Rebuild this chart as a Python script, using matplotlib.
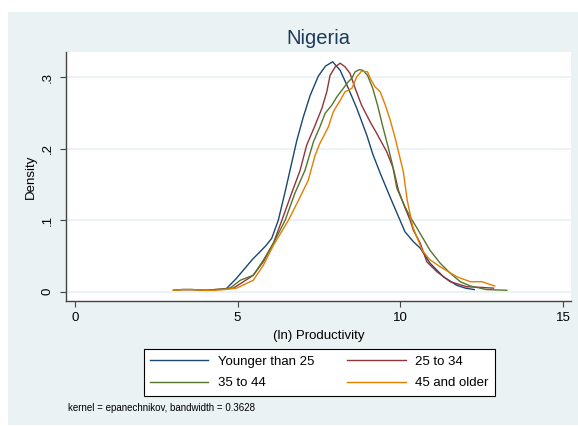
import matplotlib
matplotlib.use("Agg")
import matplotlib.pyplot as plt
from matplotlib.patches import Rectangle

plt.rcParams['font.family'] = ['Liberation Sans', 'DejaVu Sans']

# kernel density curves
young_x = [4.67, 4.95, 5.23, 5.45, 5.69, 5.88, 6.05, 6.25, 6.46, 6.66, 6.82, 7.02, 7.23, 7.48, 7.70,
           7.92, 8.15, 8.40, 8.66, 8.97, 9.15, 9.38, 9.68, 9.99, 10.14, 10.40, 10.61, 10.91, 11.32,
           11.73, 12.0, 12.27]
young_y = [0.005, 0.018, 0.033, 0.045, 0.056, 0.065, 0.075, 0.100, 0.140, 0.180, 0.212, 0.245, 0.275,
           0.302, 0.316, 0.322, 0.310, 0.285, 0.257, 0.219, 0.193, 0.166, 0.133, 0.100, 0.084, 0.070,
           0.061, 0.040, 0.021, 0.009, 0.005, 0.003]

age25_x = [3.03, 3.3, 3.6, 4.0, 4.3, 4.6, 4.87, 5.18, 5.48, 5.79, 6.10, 6.36, 6.66, 6.92, 7.12, 7.38,
           7.59, 7.74, 7.84, 8.0, 8.15, 8.30, 8.45, 8.61, 8.81, 9.07, 9.27, 9.58, 9.78, 9.94, 10.12,
           10.30, 10.40, 10.61, 10.81, 11.12, 11.53, 12.04, 12.5, 12.86]
age25_y = [0.002, 0.003, 0.003, 0.002, 0.003, 0.004, 0.005, 0.014, 0.023, 0.042, 0.068, 0.100, 0.138,
           0.170, 0.205, 0.233, 0.257, 0.280, 0.303, 0.315, 0.320, 0.315, 0.306, 0.285, 0.261, 0.238,
           0.222, 0.196, 0.173, 0.142, 0.120, 0.100, 0.086, 0.068, 0.042, 0.028, 0.014, 0.007, 0.006,
           0.005]

age35_x = [3.03, 3.3, 3.6, 4.0, 4.3, 4.6, 4.77, 5.08, 5.48, 5.79, 6.10, 6.46, 6.76, 7.07, 7.33, 7.53,
           7.69, 7.89, 8.05, 8.25, 8.40, 8.51, 8.61, 8.74, 8.85, 8.99, 9.15, 9.30, 9.45, 9.61, 9.76,
           9.89, 10.14, 10.30, 10.55, 10.91, 11.22, 11.53, 11.84, 12.15, 12.65, 13.27]
age35_y = [0.002, 0.003, 0.003, 0.002, 0.003, 0.004, 0.005, 0.016, 0.023, 0.044, 0.068, 0.100, 0.138,
           0.170, 0.210, 0.231, 0.250, 0.261, 0.273, 0.285, 0.294, 0.299, 0.308, 0.311, 0.310, 0.303,
           0.285, 0.261, 0.233, 0.205, 0.177, 0.145, 0.119, 0.105, 0.086, 0.058, 0.040, 0.026, 0.014,
           0.008, 0.003, 0.002]

age45_x = [3.03, 3.3, 3.6, 4.0, 4.3, 4.6, 4.97, 5.48, 5.79, 6.10, 6.56, 6.87, 7.17, 7.38, 7.53, 7.69,
           7.79, 7.94, 8.15, 8.30, 8.40, 8.51, 8.66, 8.81, 8.99, 9.07, 9.22, 9.38, 9.54, 9.69, 9.84,
           9.99, 10.09, 10.21, 10.38, 10.67, 10.9, 11.22, 11.73, 12.15, 12.5, 12.9]
age45_y = [0.002, 0.003, 0.003, 0.002, 0.002, 0.003, 0.005, 0.016, 0.037, 0.065, 0.100, 0.128, 0.156,
           0.191, 0.208, 0.222, 0.231, 0.252, 0.268, 0.280, 0.282, 0.285, 0.301, 0.309, 0.308, 0.299,
           0.287, 0.280, 0.261, 0.240, 0.215, 0.187, 0.168, 0.128, 0.091, 0.058, 0.045, 0.035, 0.021,
           0.014, 0.014, 0.008]

labels = ["Younger than 25", "25 to 34", "35 to 44", "45 and older"]
colors = ["#1a476f", "#90353b", "#55752f", "#e37e00"]

x_ticks = [0, 5, 10, 15]
y_ticks = [0, 0.1, 0.2, 0.3]
y_tick_labels = ["0", ".1", ".2", ".3"]

W, H = 578, 426
fig = plt.figure(figsize=(W / 100, H / 100), dpi=100)
fig.patch.set_facecolor("white")
fig.patches.append(Rectangle((8 / W, 1 / H), 1 - 8 / W, 1 - 13 / H, transform=fig.transFigure,
                             facecolor="#eaf2f3", edgecolor="none", zorder=-10))

ax = fig.add_axes([66 / W, 1 - 301 / H, (571 - 66) / W, (301 - 52) / H])
ax.set_facecolor("white")

series = [(young_x, young_y), (age25_x, age25_y), (age35_x, age35_y), (age45_x, age45_y)]
lines = []
for (xs, ys), lab, col in zip(series, labels, colors):
    ln, = ax.plot(xs, ys, color=col, lw=1.0, label=lab)
    lines.append(ln)

ax.set_xlim(-0.27, 15.24)
ax.set_ylim(-0.013, 0.3357)
ax.set_xticks(x_ticks)
ax.set_xticklabels([str(t) for t in x_ticks])
ax.set_yticks(y_ticks)
ax.set_yticklabels(y_tick_labels, rotation=90, va="center")

for t in y_ticks:
    ax.axhline(t, color="#eaf2f3", lw=1.3, zorder=0)

for s in ["top", "right"]:
    ax.spines[s].set_visible(False)
for s in ["left", "bottom"]:
    ax.spines[s].set_color("#444444")
    ax.spines[s].set_linewidth(1.0)

ax.tick_params(axis="both", colors="#444444", labelcolor="black", labelsize=9.5, length=4, width=0.8)
ax.tick_params(axis="x", pad=4)
ax.tick_params(axis="y", pad=5)

ax.set_xlabel("(ln) Productivity", fontsize=9.5, labelpad=4)
fig.text(31 / W, 1 - 177 / H, "Density", rotation=90, fontsize=9.5, ha="center", va="center")

ax.set_title("Nigeria", fontsize=14.5, color="#1e3a5c", pad=6)

# row-wise order like Stata: matplotlib fills columns first
order = [0, 2, 1, 3]
leg = fig.legend([lines[i] for i in order], [labels[i] for i in order],
                 loc="center", bbox_to_anchor=(319.5 / W, 1 - 372.5 / H), ncol=2, fontsize=9.5,
                 frameon=True, fancybox=False, edgecolor="black", framealpha=1, handlelength=4.4,
                 handletextpad=0.75, columnspacing=2.5, labelspacing=0.7, borderpad=0.5)
leg.get_frame().set_linewidth(0.8)

fig.text(68 / W, 1 - 408 / H, "kernel = epanechnikov, bandwidth = 0.3628", fontsize=7, va="center")

fig.savefig("out.png", dpi=100, facecolor=fig.get_facecolor())
